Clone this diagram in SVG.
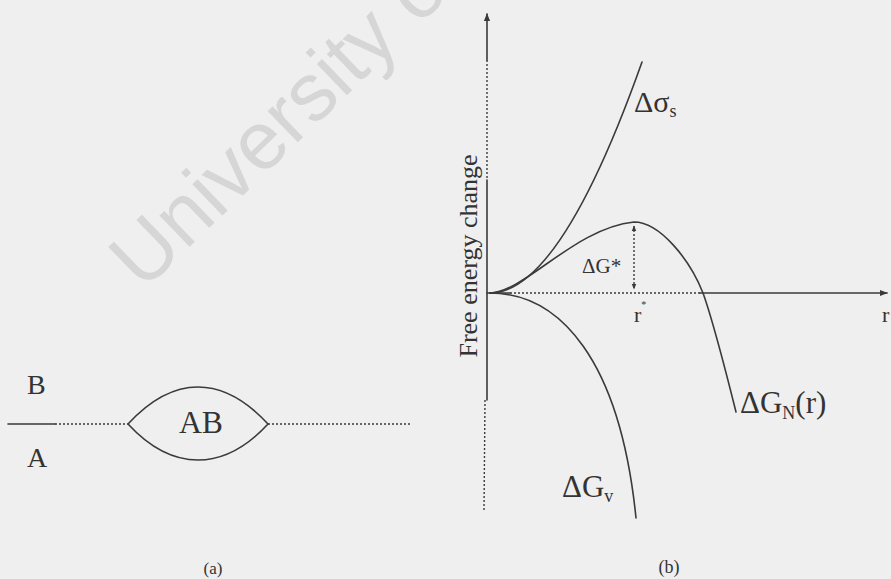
<svg xmlns="http://www.w3.org/2000/svg" width="891" height="579" viewBox="0 0 891 579">
<style>
.t{font-family:"Liberation Serif","Times New Roman",serif;fill:#333}
.ln{fill:none;stroke:#3a3a3a;stroke-width:1.6;stroke-linecap:round}
.dot{fill:none;stroke:#3a3a3a;stroke-width:1.4;stroke-dasharray:2,2}
.wm{font-family:"Liberation Sans",Arial,sans-serif;fill:#d6d6d6}
</style>
<defs>
<marker id="ah" viewBox="0 0 10 10" refX="9" refY="5" markerWidth="8" markerHeight="8" markerUnits="userSpaceOnUse" orient="auto-start-reverse">
<path d="M0,1 L10,5 L0,9 Z" fill="#3a3a3a"/>
</marker>
<marker id="ahs" viewBox="0 0 10 10" refX="9" refY="5" markerWidth="6" markerHeight="6" markerUnits="userSpaceOnUse" orient="auto-start-reverse">
<path d="M0,1 L10,5 L0,9 Z" fill="#3a3a3a"/>
</marker>
</defs>
<rect width="891" height="579" fill="#efefef"/>
<text class="wm" x="143" y="292" font-size="82" transform="rotate(-44 143 292)">University of</text>

<g id="panel-a">
<g id="phase-B"><text class="t" x="27" y="394" font-size="28">B</text></g>
<g id="phase-A"><text class="t" x="27" y="467" font-size="28">A</text></g>
<g id="nucleus-AB">
<path class="ln" d="M128,424 C152,398 175,387 198,387 C221,387 244,398 268,424 C244,450 221,460 198,460 C175,460 152,450 128,424 Z"/>
<text class="t" x="201" y="433" font-size="32" text-anchor="middle" textLength="44" lengthAdjust="spacingAndGlyphs">AB</text>
</g>
<g id="interface">
<path class="ln" d="M8,424 L55,424"/>
<path class="dot" d="M55,424 L128,424"/>
<path class="dot" d="M268,424 L410,424" stroke-dasharray="5,1.5"/>
</g>
<text class="t" x="213" y="574" font-size="17" text-anchor="middle">(a)</text>
</g>

<g id="panel-b">
<g id="axes">
<path class="ln" d="M487,60 L487,14" marker-end="url(#ah)"/>
<path class="dot" d="M487,60 L487,180"/>
<path class="ln" d="M487,180 L487,400"/>
<path class="dot" d="M485,400 L484,510"/>
<path class="ln" d="M487,293 L510,293" stroke-width="3"/>
<path class="dot" d="M510,293 L632,293"/>
<path class="dot" d="M634,293 L700,293" stroke-dasharray="8,3,2,3"/>
<path class="ln" d="M700,293 L887,293" marker-end="url(#ah)"/>
<text class="t" font-size="26" transform="translate(477 256) rotate(-90)" text-anchor="middle">Free energy change</text>
<text class="t" x="882" y="322" font-size="22">r</text>
</g>
<g id="curve-sigma">
<path class="ln" d="M490,293 Q560,293 642,62"/>
<text class="t" x="634" y="112" font-size="30">Δσ<tspan font-size="18" dy="5">s</tspan></text>
</g>
<g id="curve-Gv">
<path class="ln" d="M490,293 C560,293 620,360 636,518"/>
<text class="t" x="562" y="497" font-size="31">ΔG<tspan font-size="18" dy="5">v</tspan></text>
</g>
<g id="curve-GN">
<path class="ln" d="M490,293 C525,292 575,228 634,222 C660,222 690,260 703,293 C712,318 726,372 736,412"/>
<text class="t" x="740" y="413" font-size="31">ΔG<tspan font-size="18" dy="6">N</tspan><tspan dy="-6">(r)</tspan></text>
</g>
<g id="barrier">
<path class="dot" d="M634,226 L634,289" stroke-dasharray="3,2" marker-start="url(#ahs)" marker-end="url(#ahs)"/>
<text class="t" x="582" y="273" font-size="21">ΔG*</text>
<text class="t" x="634" y="322" font-size="22">r<tspan font-size="10" dy="-14">*</tspan></text>
</g>
<text class="t" x="669" y="573" font-size="18" text-anchor="middle">(b)</text>
</g>
</svg>
